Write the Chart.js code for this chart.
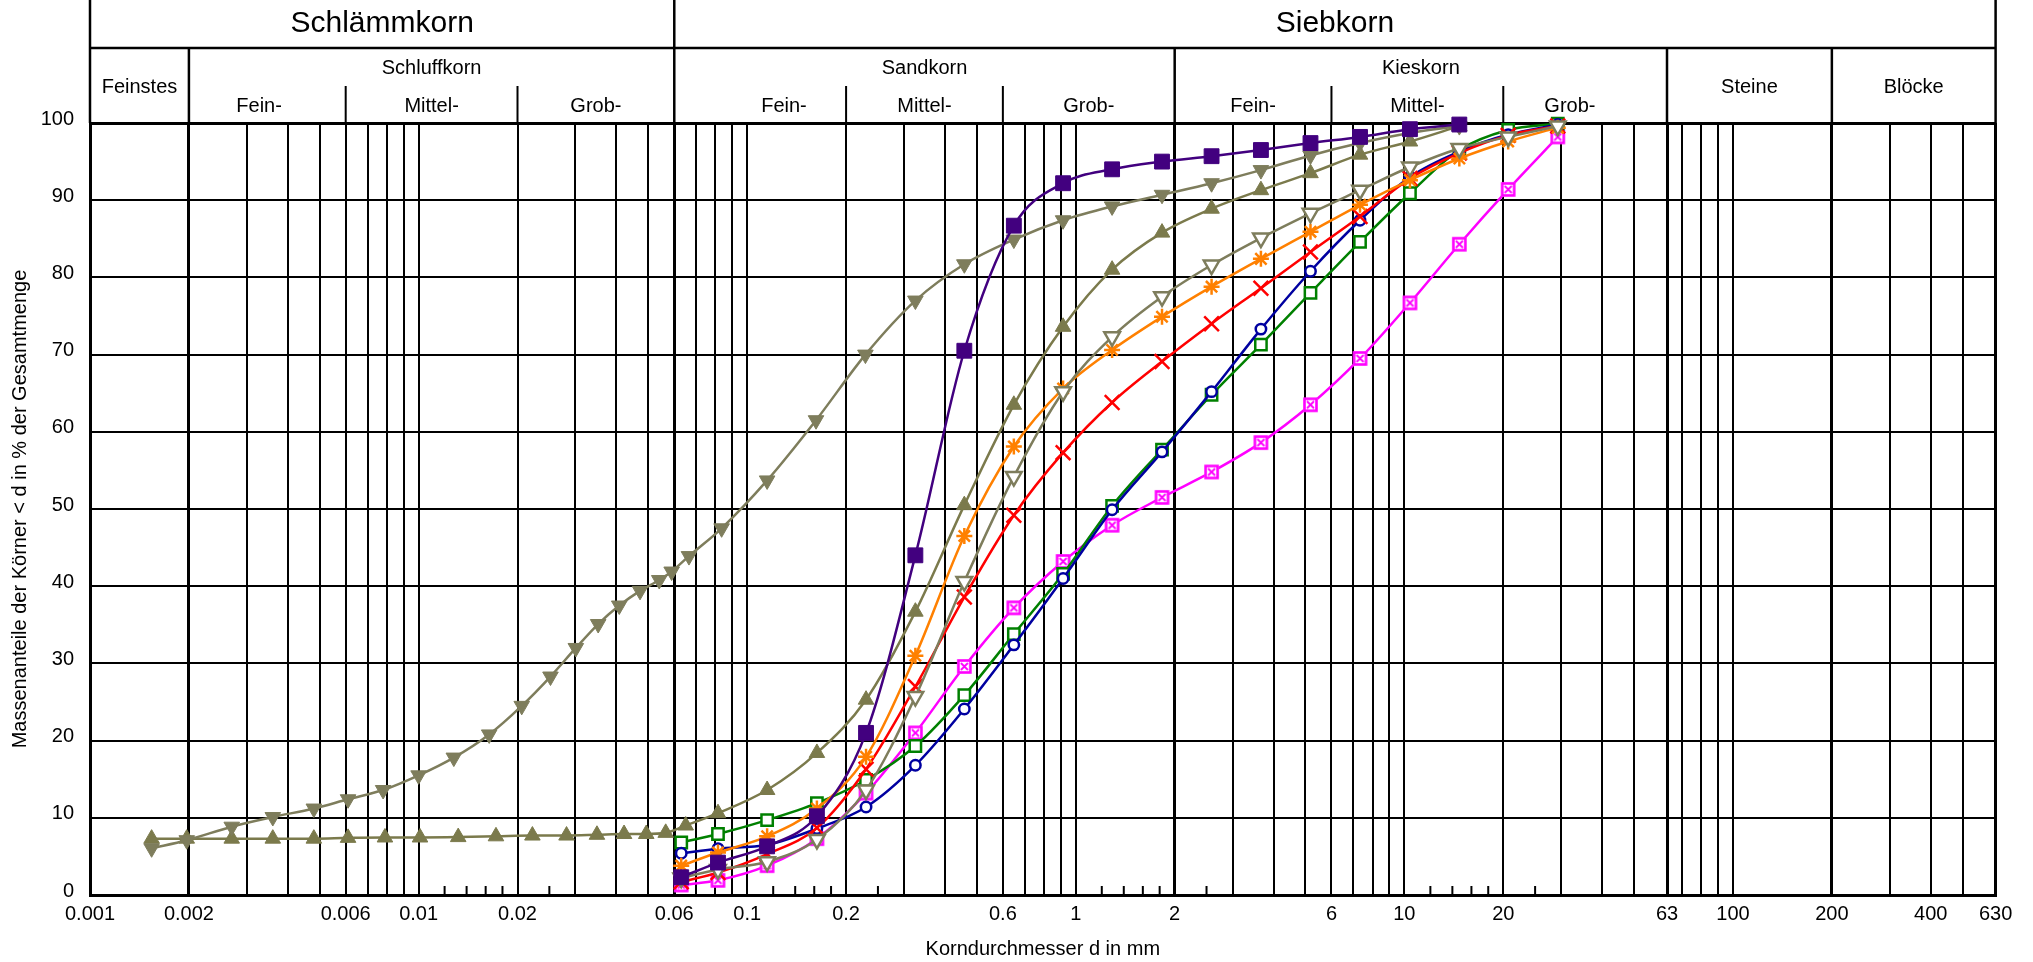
<!DOCTYPE html>
<html>
<head>
<meta charset="utf-8">
<script src="https://cdn.jsdelivr.net/npm/chart.js@4.4.1/dist/chart.umd.min.js"></script>
<style>
html, body { margin: 0; padding: 0; background: #fff; }
canvas { display: block; }
</style>
</head>
<body>
<canvas id="chart" width="2033" height="962"></canvas>
<script>
// Siebdurchmesser (mm) der Siebanalyse
const sieve = [0.063, 0.0815, 0.115, 0.163, 0.23, 0.325, 0.458, 0.648, 0.915, 1.29, 1.83, 2.59, 3.66, 5.18, 7.33, 10.4, 14.7, 20.7, 29.3]

// Durchgänge in %
const purple = [2.3, 4.2, 6.3, 10.2, 21.0, 44.0, 70.5, 86.7, 92.2, 94.0, 95.0, 95.7, 96.5, 97.4, 98.2, 99.2, 99.8]
const orange = [3.8, 5.5, 7.6, 11.2, 17.9, 31.0, 46.5, 58.1, 65.6, 70.6, 74.9, 78.8, 82.4, 85.9, 89.4, 92.6, 95.4, 97.6, 99.4]
const red = [1.7, 2.9, 5.3, 8.7, 16.3, 27.0, 38.6, 49.2, 57.3, 63.8, 69.1, 74.0, 78.6, 83.3, 87.9, 92.8, 96.1, 98.4, 99.6]
const blue = [5.4, 6.0, 6.5, 8.6, 11.4, 16.8, 24.1, 32.4, 41.0, 49.9, 57.4, 65.2, 73.3, 80.8, 87.4, 93.0, 96.3, 98.5, 99.8]
const green = [6.8, 7.9, 9.7, 11.9, 14.9, 19.3, 25.9, 33.8, 41.6, 50.4, 57.7, 64.8, 71.3, 78.0, 84.6, 90.9, 96.5, 99.1, 99.9]
const magenta = [1.3, 1.9, 3.8, 7.3, 13.2, 21.0, 29.6, 37.2, 43.2, 47.9, 51.5, 54.8, 58.6, 63.5, 69.5, 76.7, 84.3, 91.4, 98.2]
const grayOpen = [2.2, 3.3, 4.3, 7.2, 13.6, 25.7, 40.6, 54.2, 65.2, 72.3, 77.5, 81.6, 85.1, 88.3, 91.3, 94.3, 96.7, 98.2, 99.6]

// Schlämm- und Siebanalyse (olivfarbene Kurven)
const upX = [0.00154, 0.00197, 0.0027, 0.0036, 0.0048, 0.0061, 0.0079, 0.0101, 0.0132, 0.0172, 0.0222, 0.0282, 0.0349, 0.0422, 0.0493, 0.0565, 0.065, 0.0815, 0.115, 0.163, 0.23, 0.325, 0.458, 0.648, 0.915, 1.29, 1.83, 2.59, 3.66, 5.18, 7.33, 10.4, 14.7]
const upY = [7.3, 7.3, 7.3, 7.3, 7.3, 7.4, 7.45, 7.45, 7.5, 7.6, 7.7, 7.7, 7.8, 7.9, 7.9, 8.05, 9.0, 10.6, 13.6, 18.4, 25.3, 36.7, 50.5, 63.5, 73.6, 81.0, 85.8, 88.9, 91.3, 93.5, 95.9, 97.6, 99.6]
const downX = [0.00154, 0.00197, 0.0027, 0.0036, 0.0048, 0.0061, 0.0078, 0.0100, 0.0128, 0.0164, 0.0206, 0.0252, 0.0301, 0.0352, 0.0408, 0.0472, 0.054, 0.0589, 0.0665, 0.0836, 0.115, 0.162, 0.229, 0.325, 0.458, 0.648, 0.915, 1.29, 1.83, 2.59, 3.66, 5.18, 7.33, 10.4, 14.7]
const downY = [6.05, 7.1, 8.85, 10.1, 11.2, 12.4, 13.6, 15.5, 17.8, 20.8, 24.5, 28.3, 32.0, 35.1, 37.5, 39.4, 40.8, 41.9, 43.9, 47.5, 53.7, 61.5, 70.0, 77.0, 81.7, 84.9, 87.4, 89.2, 90.7, 92.2, 93.9, 95.8, 97.4, 98.7, 99.6]

// Achsen
const tickLabels = [0.001, 0.002, 0.006, 0.01, 0.02, 0.06, 0.1, 0.2, 0.6, 1, 2, 6, 10, 20, 63, 100, 200, 400, 630]
const gridValues = [0.001, 0.002, 0.003, 0.004, 0.005, 0.006, 0.007, 0.008, 0.009, 0.01, 0.02, 0.03, 0.04, 0.05, 0.06, 0.07, 0.08, 0.09,
	0.1, 0.2, 0.3, 0.4, 0.5, 0.6, 0.7, 0.8, 0.9, 1, 2, 3, 4, 5, 6, 7, 8, 9, 10, 20, 30, 40, 50, 63, 70, 80, 90, 100, 200, 300, 400, 500, 630]
const thickValues = [0.001, 0.002, 0.06, 2, 63, 200, 630]
const shortTicks = [0.012, 0.014, 0.016, 0.018, 0.025, 0.12, 0.14, 0.16, 0.18, 0.25, 1.2, 1.4, 1.6, 1.8, 2.5, 12, 14, 16, 18, 25]

// Kopfzeile: [Text, Mitte (mm), y, Schriftgröße]
const headerTexts = [
	['Schlämmkorn', Math.sqrt(0.001 * 0.06), 24, 30],
	['Siebkorn', Math.sqrt(0.06 * 630), 24, 30],
	['Feinstes', Math.sqrt(0.001 * 0.002), 87, 20],
	['Schluffkorn', Math.sqrt(0.002 * 0.06), 68, 20],
	['Fein-', 0.00327, 106, 20],
	['Mittel-', Math.sqrt(0.006 * 0.02), 106, 20],
	['Grob-', Math.sqrt(0.02 * 0.06), 106, 20],
	['Sandkorn', Math.sqrt(0.06 * 2), 68, 20],
	['Fein-', 0.1294, 106, 20],
	['Mittel-', Math.sqrt(0.2 * 0.6), 106, 20],
	['Grob-', Math.sqrt(0.6 * 2), 106, 20],
	['Kieskorn', Math.sqrt(2 * 63), 68, 20],
	['Fein-', Math.sqrt(2 * 6), 106, 20],
	['Mittel-', Math.sqrt(6 * 20), 106, 20],
	['Grob-', 31.9, 106, 20],
	['Steine', Math.sqrt(63 * 200), 87, 20],
	['Blöcke', Math.sqrt(200 * 630), 87, 20]
]
const headerFull = [0.001, 0.06, 630]
const headerRow2 = [0.002, 2, 63, 200]
const headerSub = [0.006, 0.02, 0.2, 0.6, 6, 20]

const FONT = 'Arial, "Liberation Sans", sans-serif'

function zip(xs, ys) {
	return ys.map((y, i) => ({x: xs[i], y: y}))
}

// Quadrat mit Kreuz als Marker
function crossBox(color) {
	const c = document.createElement('canvas')
	c.width = 17
	c.height = 17
	const g = c.getContext('2d')
	g.fillStyle = '#fff'
	g.fillRect(1.5, 1.5, 14, 14)
	g.strokeStyle = color
	g.lineWidth = 2.6
	g.strokeRect(2.5, 2.5, 12, 12)
	g.lineWidth = 1.8
	g.beginPath()
	g.moveTo(5, 5); g.lineTo(12, 12)
	g.moveTo(12, 5); g.lineTo(5, 12)
	g.stroke()
	return c
}

function series(label, data, color, style, opts) {
	return Object.assign({
		label: label,
		data: data,
		borderColor: color,
		backgroundColor: color,
		pointBackgroundColor: '#fff',
		pointBorderColor: color,
		pointStyle: style,
		pointRadius: 7,
		pointBorderWidth: 2.5,
		borderWidth: 2.5,
		cubicInterpolationMode: 'monotone',
		clip: false
	}, opts || {})
}

const olive = '#7b7a4c'
const oliveGray = '#7e7d5c'

const datasets = [
	series('S1', zip(sieve, purple), '#42007f', 'rect', {pointBackgroundColor: '#42007f', pointRadius: 10.5, pointBorderWidth: 1}),
	series('S2', zip(downX, downY), oliveGray, 'triangle', {pointBackgroundColor: oliveGray, pointRotation: 180, pointRadius: 9, pointBorderWidth: 1}),
	series('S3', zip(upX, upY), olive, 'triangle', {pointBackgroundColor: olive, pointRadius: 9, pointBorderWidth: 1}),
	series('S4', zip(sieve, grayOpen), oliveGray, 'triangle', {pointRotation: 180, pointRadius: 9}),
	series('S5', zip(sieve, orange), '#ff8000', 'star', {pointRadius: 8}),
	series('S6', zip(sieve, red), '#ff0000', 'crossRot', {pointRadius: 10.4}),
	series('S7', zip(sieve, blue), '#0000a0', 'circle', {pointRadius: 5.2}),
	series('S8', zip(sieve, green), '#008000', 'rect', {pointRadius: 8}),
	series('S9', zip(sieve, magenta), '#ff00ff', crossBox('#ff00ff'), {pointRadius: 8})
]

// Kopfzeile, kurze Teilstriche und Rahmen
const headerPlugin = {
	id: 'header',
	afterDraw(chart) {
		const ctx = chart.ctx
		const xs = chart.scales.x
		const area = chart.chartArea
		const px = v => xs.getPixelForValue(v)
		ctx.save()
		ctx.strokeStyle = '#000'
		ctx.lineWidth = 2.5
		ctx.beginPath()
		headerFull.forEach(v => { ctx.moveTo(px(v), 0); ctx.lineTo(px(v), area.top) })
		headerRow2.forEach(v => { ctx.moveTo(px(v), 48); ctx.lineTo(px(v), area.top) })
		ctx.moveTo(area.left, 48); ctx.lineTo(area.right, 48)
		ctx.stroke()
		ctx.lineWidth = 2
		ctx.beginPath()
		headerSub.forEach(v => { ctx.moveTo(px(v), 86); ctx.lineTo(px(v), area.top) })
		shortTicks.forEach(v => { ctx.moveTo(px(v), area.bottom); ctx.lineTo(px(v), area.bottom - 9) })
		ctx.stroke()
		ctx.fillStyle = '#000'
		ctx.textAlign = 'center'
		ctx.textBaseline = 'middle'
		headerTexts.forEach(t => {
			ctx.font = t[3] + 'px ' + FONT
			ctx.fillText(t[0], px(t[1]), t[2])
		})
		ctx.restore()
	}
}

const tickFont = {family: FONT, size: 20}

new Chart(document.getElementById('chart'), {
	type: 'line',
	data: {datasets: datasets},
	plugins: [headerPlugin],
	options: {
		responsive: false,
		animation: false,
		devicePixelRatio: 1,
		layout: {padding: {top: 123, right: 37.4, left: 0, bottom: 0}},
		plugins: {legend: {display: false}, tooltip: {enabled: false}},
		scales: {
			x: {
				type: 'logarithmic',
				min: 0.001,
				max: 630,
				afterBuildTicks: s => { s.ticks = gridValues.map(v => ({value: v})) },
				afterFit: s => { s.height = 67 },
				ticks: {
					autoSkip: false,
					maxRotation: 0,
					minRotation: 0,
					padding: 7,
					color: '#000',
					font: tickFont,
					callback: v => tickLabels.includes(v) ? String(v) : ''
				},
				grid: {
					color: '#000',
					drawTicks: false,
					lineWidth: c => (c.tick && thickValues.includes(c.tick.value)) ? 3 : 2
				},
				border: {display: true, color: '#000', width: 3},
				title: {display: true, text: 'Korndurchmesser d in mm', color: '#000', font: tickFont, padding: {top: 0, bottom: 1}}
			},
			y: {
				min: 0,
				max: 100,
				afterFit: s => { s.width = 90 },
				ticks: {stepSize: 10, padding: 16, labelOffset: -4, color: '#000', font: tickFont},
				grid: {
					color: '#000',
					drawTicks: false,
					lineWidth: c => (c.tick && c.tick.value === 100) ? 3 : 2
				},
				border: {display: true, color: '#000', width: 3},
				title: {display: true, text: 'Massenanteile der Körner < d in % der Gesamtmenge', color: '#000', font: tickFont, padding: {top: 8, bottom: 0}}
			}
		}
	}
})
</script>
</body>
</html>
